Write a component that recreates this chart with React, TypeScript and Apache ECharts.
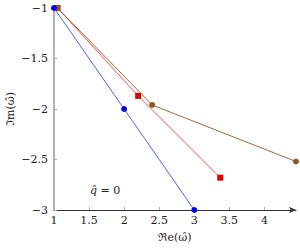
import React, { useEffect, useRef } from "react";
import * as echarts from "echarts";

const blueData: [number, number][] = [[1, -1], [2, -2], [3, -3]];
const redData: [number, number][] = [[1.05, -1], [2.2, -1.87], [3.37, -2.68]];
const brownData: [number, number][] = [[1.05, -1], [2.4, -1.96], [4.45, -2.52]];
const xLabel = "ℜe(ω̂)";
const yLabel = "ℑm(ω̂)";
const annotationVar = "q̂";
const annotationRest = " = 0";

const FONT = "DejaVu Serif";

const fmt = (v: number) => (v < 0 ? "−" + String(-v) : String(v));

export default function App() {
  const ref = useRef<HTMLDivElement>(null);
  useEffect(() => {
    if (!ref.current) return;
    const chart = echarts.init(ref.current, undefined, { renderer: "svg" });
    chart.setOption({
      animation: false,
      grid: { left: 54, top: 8, right: 4, bottom: 40, outerBoundsMode: "none", containLabel: false },
      xAxis: {
        type: "value",
        min: 1,
        max: 4.45,
        interval: 0.5,
        name: xLabel,
        nameLocation: "middle",
        nameGap: 22,
        nameTextStyle: { fontFamily: FONT, fontSize: 11, color: "#222" },
        axisLine: {
          onZero: false,
          lineStyle: { color: "#333", width: 1 },
          symbol: ["none", "arrow"],
          symbolSize: [5, 7],
        },
        axisTick: { show: true, inside: true, length: 3, lineStyle: { color: "#aaa" } },
        axisLabel: {
          showMaxLabel: false,
          fontFamily: FONT,
          fontSize: 11,
          color: "#222",
          margin: 5,
          formatter: (v: number) => fmt(v),
        },
        splitLine: { show: false },
      },
      yAxis: {
        type: "value",
        min: -3,
        max: -1,
        interval: 0.5,
        axisLine: { show: true, onZero: false, lineStyle: { color: "#999", width: 1.5 } },
        axisTick: { show: true, inside: true, length: 3, lineStyle: { color: "#aaa" } },
        axisLabel: {
          fontFamily: FONT,
          fontSize: 11,
          color: "#222",
          margin: 6,
          formatter: (v: number) => fmt(v),
        },
        splitLine: { show: false },
      },
      graphic: [
        {
          type: "text",
          x: 10,
          y: 109,
          rotation: Math.PI / 2,
          style: {
            text: yLabel,
            font: `11px ${FONT}`,
            fill: "#222",
            align: "center",
            verticalAlign: "middle",
          },
        },
        {
          type: "text",
          left: 90,
          top: 185,
          style: {
            text: `{v|${annotationVar}}{r|${annotationRest}}`,
            rich: {
              v: { fontFamily: FONT, fontStyle: "italic", fontSize: 11, fill: "#222", color: "#222" },
              r: { fontFamily: FONT, fontSize: 11, fill: "#222", color: "#222" },
            },
          },
        },
      ],
      series: [
        {
          type: "line",
          data: redData,
          clip: false,
          symbol: "rect",
          symbolSize: 6,
          itemStyle: { color: "#e00000" },
          lineStyle: { color: "#ff5050", width: 1 },
          z: 2,
        },
        {
          type: "line",
          data: brownData,
          clip: false,
          symbol: "circle",
          symbolSize: 6,
          itemStyle: { color: "#8b5a2b" },
          lineStyle: { color: "#9b6a3b", width: 1 },
          z: 3,
        },
        {
          type: "line",
          data: blueData,
          clip: false,
          symbol: "circle",
          symbolSize: 6,
          itemStyle: { color: "#0000e8" },
          lineStyle: { color: "#5060ff", width: 1 },
          z: 4,
        },
      ],
    });
    return () => chart.dispose();
  }, []);
  return <div ref={ref} style={{ width: 300, height: 250, position: "absolute", left: 0, top: 0 }} />;
}
